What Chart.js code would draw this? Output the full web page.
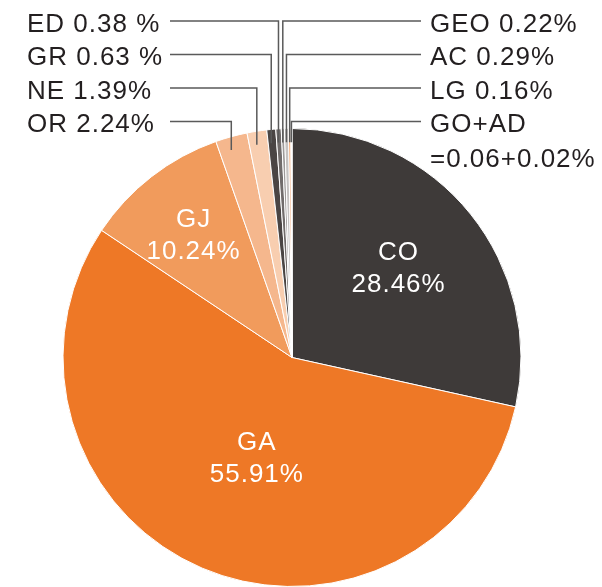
<!DOCTYPE html>
<html>
<head>
<meta charset="utf-8">
<script src="https://cdn.jsdelivr.net/npm/chart.js@4/dist/chart.umd.min.js"></script>
<style>
  html, body { margin: 0; padding: 0; background: #fff; }
  #wrap { width: 602px; height: 587px; }
</style>
</head>
<body>
<div id="wrap"><canvas id="pie"></canvas></div>
<script>
// slices, clockwise from 12 o'clock
const categories = ['CO', 'GA', 'GJ', 'OR', 'NE', 'GR', 'ED', 'GEO', 'AC', 'LG', 'GO', 'AD'];
const shares = [28.46, 55.91, 10.24, 2.24, 1.39, 0.63, 0.38, 0.22, 0.29, 0.16, 0.06, 0.02];
const sliceColours = ['#3e3a39', '#ee7826', '#f19b5c', '#f5b78d', '#f8ceb0', '#4a4544',
                      '#716c6b', '#9e9a99', '#c6c3c2', '#f29a5e', '#f7c6a2', '#fbe0cc'];

// labels written inside the big slices
const insideLabels = {
    CO: ['CO', '28.46%'],
    GA: ['GA', '55.91%'],
    GJ: ['GJ', '10.24%']
};
// labels pulled out with leader lines (left column / right column)
const leftLabels = [['ED', 'ED 0.38 %'], ['GR', 'GR 0.63 %'], ['NE', 'NE 1.39%'], ['OR', 'OR 2.24%']];
const rightLabels = [['GEO', 'GEO 0.22%'], ['AC', 'AC 0.29%'], ['LG', 'LG 0.16%'], ['GO+AD', 'GO+AD', '=0.06+0.02%']];

// placement of inside labels: fraction of radius, angle shift in degrees
const insidePlace = { CO: [0.61, -1.5], GA: [0.46, -3.6], GJ: [0.69, -0.7] };
const rowY = [21, 54.5, 88, 121.5];
const rowStep = 35;

const FONT = '26px "Liberation Sans", Arial, sans-serif';

function arcInfo(chart, names) {
    const meta = chart.getDatasetMeta(0);
    let start = null, end = null, arc = null;
    names.forEach((n) => {
        const i = categories.indexOf(n);
        const p = meta.data[i].getProps(['x', 'y', 'startAngle', 'endAngle', 'outerRadius'], true);
        if (start === null || p.startAngle < start) start = p.startAngle;
        if (end === null || p.endAngle > end) end = p.endAngle;
        arc = p;
    });
    return { x: arc.x, y: arc.y, r: arc.outerRadius, mid: (start + end) / 2 };
}

const labelPlugin = {
    id: 'pieLabels',
    afterDraw(chart) {
        const ctx = chart.ctx;
        ctx.save();
        ctx.font = FONT;
        if ('letterSpacing' in ctx) ctx.letterSpacing = '1px';

        // inside labels
        ctx.fillStyle = '#ffffff';
        ctx.textAlign = 'center';
        ctx.textBaseline = 'alphabetic';
        Object.keys(insideLabels).forEach((name) => {
            const a = arcInfo(chart, [name]);
            const [frac, shift] = insidePlace[name];
            const ang = a.mid + shift * Math.PI / 180;
            const lx = a.x + Math.cos(ang) * a.r * frac;
            const ly = a.y + Math.sin(ang) * a.r * frac;
            ctx.fillText(insideLabels[name][0], lx, ly - 7);
            ctx.fillText(insideLabels[name][1], lx, ly + 25);
        });

        // leader lines
        ctx.strokeStyle = '#5a5a5a';
        ctx.lineWidth = 1.5;
        const lead = (names, y, fromX) => {
            const a = arcInfo(chart, names);
            const ex = a.x + Math.cos(a.mid) * a.r;
            const ty = a.y + Math.sin(a.mid) * a.r * 0.94;
            ctx.beginPath();
            ctx.moveTo(fromX, y);
            ctx.lineTo(ex, y);
            ctx.lineTo(ex, ty);
            ctx.stroke();
        };
        leftLabels.forEach((l, i) => lead([l[0]], rowY[i], 170));
        rightLabels.forEach((l, i) => lead(l[0].split('+'), rowY[i], 421));

        // outer text
        ctx.fillStyle = '#231f20';
        ctx.textAlign = 'left';
        leftLabels.forEach((l, i) => ctx.fillText(l[1], 27, rowY[i] + 10.5));
        rightLabels.forEach((l, i) => {
            ctx.fillText(l[1], 430, rowY[i] + 10.5);
            if (l[2]) ctx.fillText(l[2], 430, rowY[i] + 10.5 + rowStep);
        });
        ctx.restore();
    }
};

new Chart(document.getElementById('pie'), {
    type: 'pie',
    data: {
        labels: categories,
        datasets: [{
            data: shares,
            backgroundColor: sliceColours,
            borderColor: '#ffffff',
            borderWidth: 1,
            hoverOffset: 0
        }]
    },
    options: {
        responsive: true,
        maintainAspectRatio: false,
        animation: false,
        layout: { padding: { top: 128, right: 18, bottom: 0, left: 0 } },
        plugins: {
            legend: { display: false },
            tooltip: { enabled: false }
        }
    },
    plugins: [labelPlugin]
});
</script>
</body>
</html>
